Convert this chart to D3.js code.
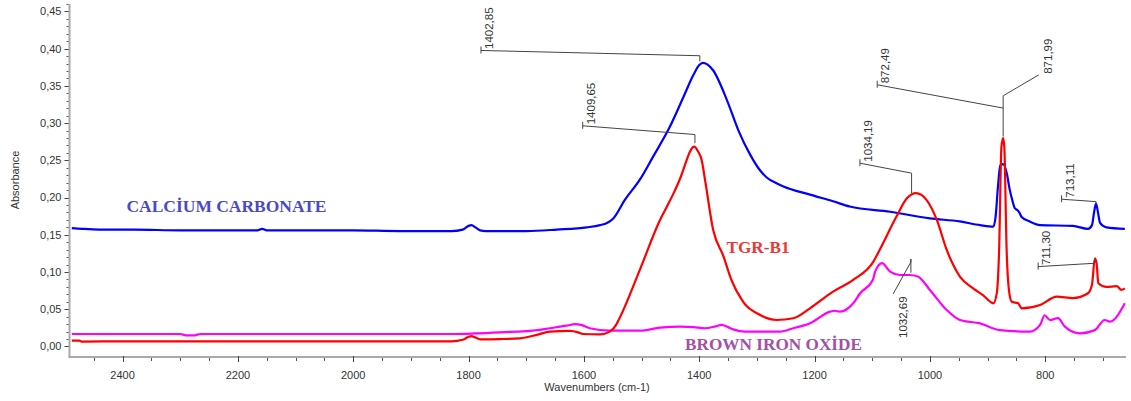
<!DOCTYPE html>
<html><head><meta charset="utf-8">
<script src="https://cdn.jsdelivr.net/npm/d3@7"></script>
<style>body{margin:0;background:#fff;} svg{display:block;}</style>
</head><body>
<svg id="chart" width="1131" height="401"></svg>
<script>
// ---------- DATA ----------
const xTickValues = [2400, 2200, 2000, 1800, 1600, 1400, 1200, 1000, 800];
const yTickValues = [0, 0.05, 0.10, 0.15, 0.20, 0.25, 0.30, 0.35, 0.40, 0.45];
const seriesNames = ["CALCİUM CARBONATE", "TGR-B1", "BROWN IRON OXİDE"];

const calciumCarbonate = [
 [2488,0.159],[2470,0.158],[2440,0.157],[2380,0.157],[2300,0.156],[2200,0.156],[2166,0.156],[2158,0.158],
 [2150,0.156],[2092,0.156],[2000,0.156],[1919,0.155],[1830,0.155],[1810,0.157],[1800,0.162],[1795,0.163],
 [1788,0.160],[1780,0.156],[1770,0.155],[1700,0.155],[1647,0.157],[1595,0.160],[1572,0.163],[1560,0.166],
 [1549,0.172],[1529,0.197],[1503,0.224],[1480,0.255],[1451,0.295],[1428,0.334],[1410,0.365],[1400,0.378],
 [1394,0.381],[1386,0.379],[1376,0.371],[1352,0.331],[1332,0.290],[1312,0.258],[1295,0.237],[1283,0.227],
 [1265,0.219],[1254,0.215],[1208,0.204],[1168,0.195],[1139,0.188],[1069,0.181],[1000,0.172],[948,0.168],
 [913,0.163],[890,0.161],[886,0.175],[882,0.215],[878,0.243],[873,0.245],[866,0.230],[862,0.212],
 [858,0.199],[853,0.186],[848,0.183],[845,0.180],[841,0.174],[827,0.168],[809,0.163],[752,0.162],
 [726,0.158],[719,0.163],[715,0.182],[712,0.192],[709,0.182],[705,0.166],[694,0.160],[662,0.158]
];
const tgrB1 = [
 [2488,0.0078],[2475,0.0078],[2470,0.0065],[2400,0.007],[2300,0.007],[2200,0.0068],[2000,0.0068],[1830,0.007],
 [1810,0.009],[1800,0.013],[1795,0.014],[1788,0.012],[1780,0.0097],[1745,0.010],[1711,0.011],[1680,0.016],
 [1659,0.020],[1624,0.021],[1610,0.019],[1602,0.0168],[1572,0.0164],[1555,0.020],[1545,0.028],[1537,0.040],
 [1503,0.103],[1468,0.170],[1456,0.188],[1445,0.205],[1433,0.226],[1422,0.250],[1416,0.262],[1409,0.2685],
 [1402,0.262],[1396,0.251],[1390,0.224],[1376,0.157],[1358,0.121],[1344,0.089],[1326,0.0625],[1320,0.056],
 [1300,0.0446],[1266,0.0356],[1237,0.038],[1208,0.0513],[1168,0.0737],[1133,0.0894],[1098,0.114],[1087,0.130],
 [1058,0.1745],[1040,0.199],[1024,0.206],[1006,0.197],[988,0.170],[971,0.130],[948,0.094],[925,0.078],
 [908,0.069],[890,0.058],[884,0.072],[880,0.130],[876,0.268],[873,0.280],[871,0.268],[867,0.130],
 [862,0.070],[858,0.060],[847,0.058],[841,0.0513],[809,0.0558],[780,0.067],[752,0.065],[726,0.0715],
 [719,0.083],[714,0.1185],[711,0.112],[708,0.085],[694,0.080],[676,0.081],[668,0.076],[662,0.078]
];
const brownIronOxide = [
 [2488,0.0168],[2300,0.0168],[2290,0.015],[2275,0.015],[2265,0.0168],[2000,0.0168],[1830,0.0168],[1790,0.0175],
 [1745,0.019],[1680,0.022],[1659,0.0245],[1630,0.028],[1615,0.030],[1605,0.029],[1590,0.0245],[1555,0.0212],
 [1503,0.0212],[1468,0.0253],[1433,0.0266],[1410,0.026],[1390,0.0245],[1372,0.027],[1361,0.029],[1350,0.026],
 [1341,0.023],[1320,0.020],[1260,0.020],[1237,0.0245],[1208,0.0312],[1173,0.0468],[1165,0.048],[1156,0.0468],
 [1133,0.058],[1121,0.0715],[1099,0.0894],[1095,0.1005],[1083,0.112],[1069,0.1005],[1052,0.096],[1035,0.096],
 [1021,0.094],[1000,0.076],[971,0.049],[948,0.0356],[913,0.031],[879,0.022],[827,0.020],[809,0.029],
 [801,0.042],[792,0.0356],[778,0.038],[766,0.0266],[740,0.0177],[714,0.022],[697,0.0356],[688,0.0333],[662,0.058]
];

// peak annotations: label text and leader polyline in data units (wavenumber, absorbance)
const peakLabels = ["1402,85","1409,65","872,49","871,99","1034,19","1032,69","713,11","711,30"];
const peakLeaders = [
 [[1778.5,0.3976],[1399,0.3905],[1399,0.3828]],
 [[1602.1,0.2964],[1407.5,0.2847],[1407.5,0.2731]],
 [[1091.4,0.3515],[873,0.3202]],
 [[811.1,0.3649],[873,0.3367],[873,0.282]],
 [[1121.4,0.2462],[1031.8,0.2328],[1031.8,0.2059]],
 [[1063.7,0.0706],[1033,0.1136],[1033,0.1176],[1033,0.0992]],
 [[771.7,0.1978],[712.2,0.1946],[712.2,0.1909]],
 [[812.3,0.1073],[714,0.1118],[714,0.1163]]
];

// ---------- LAYOUT ----------
const svg = d3.select("#chart");
const x = d3.scaleLinear().domain([2492, 660]).range([69.5, 1126]);
const y = d3.scaleLinear().domain([-0.0137, 0.46]).range([356.7, 4]);
const fmt = d3.formatLocale({decimal:",", thousands:".", grouping:[3], currency:["",""]}).format(".2f");
const font = "'Liberation Sans', Arial, sans-serif";

// Y axis
const gy = svg.append("g").attr("transform","translate(69.5,0)");
gy.append("line").attr("y1",4).attr("y2",357.5).attr("stroke","#a9a9a9").attr("stroke-width",2);
gy.selectAll(".minor").data(d3.range(0,0.461,0.01)).join("line")
  .attr("x1",-3).attr("x2",-1).attr("y1",d=>Math.round(y(d))+0.5).attr("y2",d=>Math.round(y(d))+0.5)
  .attr("stroke","#555").attr("stroke-width",1);
gy.selectAll(".major").data(yTickValues).join("line")
  .attr("x1",-5).attr("x2",-1).attr("y1",d=>Math.round(y(d))+0.5).attr("y2",d=>Math.round(y(d))+0.5)
  .attr("stroke","#444").attr("stroke-width",1);
gy.selectAll("text").data(yTickValues).join("text")
  .attr("x",-8).attr("y",d=>y(d)).attr("dy","0.35em").attr("text-anchor","end")
  .attr("font-family",font).attr("font-size",11).attr("fill","#333").text(d=>fmt(d));

// X axis
const gx = svg.append("g").attr("transform","translate(0,357)");
gx.append("line").attr("x1",68.5).attr("x2",1126).attr("stroke","#a9a9a9").attr("stroke-width",2);
gx.selectAll(".minor").data(d3.range(2450,660,-50)).join("line")
  .attr("x1",d=>Math.round(x(d))+0.5).attr("x2",d=>Math.round(x(d))+0.5).attr("y1",1).attr("y2",4)
  .attr("stroke","#555");
gx.selectAll(".major").data(xTickValues).join("line")
  .attr("x1",d=>Math.round(x(d))+0.5).attr("x2",d=>Math.round(x(d))+0.5).attr("y1",-1).attr("y2",5)
  .attr("stroke","#444");
gx.selectAll("text").data(xTickValues).join("text")
  .attr("x",d=>x(d)).attr("y",22).attr("text-anchor","middle")
  .attr("font-family",font).attr("font-size",11).attr("fill","#333").text(d=>d);

svg.append("text").attr("x",597).attr("y",391).attr("text-anchor","middle")
  .attr("font-family",font).attr("font-size",11).attr("fill","#333").text("Wavenumbers (cm-1)");
svg.append("text").attr("transform","translate(19,180) rotate(-90)").attr("text-anchor","middle")
  .attr("font-family",font).attr("font-size",11).attr("fill","#333").text("Absorbance");

// Spectra
const line = d3.line().x(d=>x(d[0])).y(d=>y(d[1])).curve(d3.curveMonotoneX);
const series = [
  {data: brownIronOxide, color:"#ff00ff"},
  {data: calciumCarbonate, color:"#0000ff"},
  {data: tgrB1, color:"#ff0000"}
];
svg.append("g").selectAll("path").data(series).join("path")
  .attr("d",d=>line(d.data)).attr("fill","none").attr("stroke",d=>d.color)
  .attr("stroke-width",2.2).attr("stroke-linejoin","round");

// Peak annotations
const pl = d3.line().x(d=>x(d[0])).y(d=>y(d[1]));
const ga = svg.append("g");
peakLeaders.forEach((pts,i)=>{
  ga.append("path").attr("d",pl(pts)).attr("fill","none").attr("stroke","#444").attr("stroke-width",1);
  const px = x(pts[0][0]), py = y(pts[0][1]);
  const lbl = peakLabels[i];
  if (lbl === "1032,69") {
    ga.append("text").attr("transform",`translate(${px+13.5},${py+2.5}) rotate(-90)`)
      .attr("text-anchor","end").attr("font-family",font).attr("font-size",11.5).attr("fill","#333").text(lbl);
  } else if (lbl === "871,99") {
    ga.append("text").attr("transform",`translate(${px+13},${py-1}) rotate(-90)`)
      .attr("text-anchor","start").attr("font-family",font).attr("font-size",11.5).attr("fill","#333").text(lbl);
  } else {
    ga.append("line").attr("x1",px).attr("x2",px).attr("y1",py-4).attr("y2",py+3).attr("stroke","#444");
    ga.append("text").attr("transform",`translate(${px+12},${py-1.5}) rotate(-90)`)
      .attr("text-anchor","start").attr("font-family",font).attr("font-size",11.5).attr("fill","#333").text(lbl);
  }
});

// Series labels
const serif = "'Liberation Serif', 'Times New Roman', serif";
const labelSpec = [
  {t:seriesNames[0], x:126.5, y:211.7, c:"#4a4ac8", w:200},
  {t:seriesNames[1], x:726.5, y:253.3, c:"#e83a36", w:63},
  {t:seriesNames[2], x:685, y:350, c:"#a450a6", w:177}
];
svg.append("g").selectAll("text").data(labelSpec).join("text")
  .attr("x",d=>d.x).attr("y",d=>d.y).attr("fill",d=>d.c)
  .attr("font-family",serif).attr("font-weight","bold").attr("font-size",17)
  .attr("textLength",d=>d.w).attr("lengthAdjust","spacingAndGlyphs").text(d=>d.t);
</script>
</body></html>
